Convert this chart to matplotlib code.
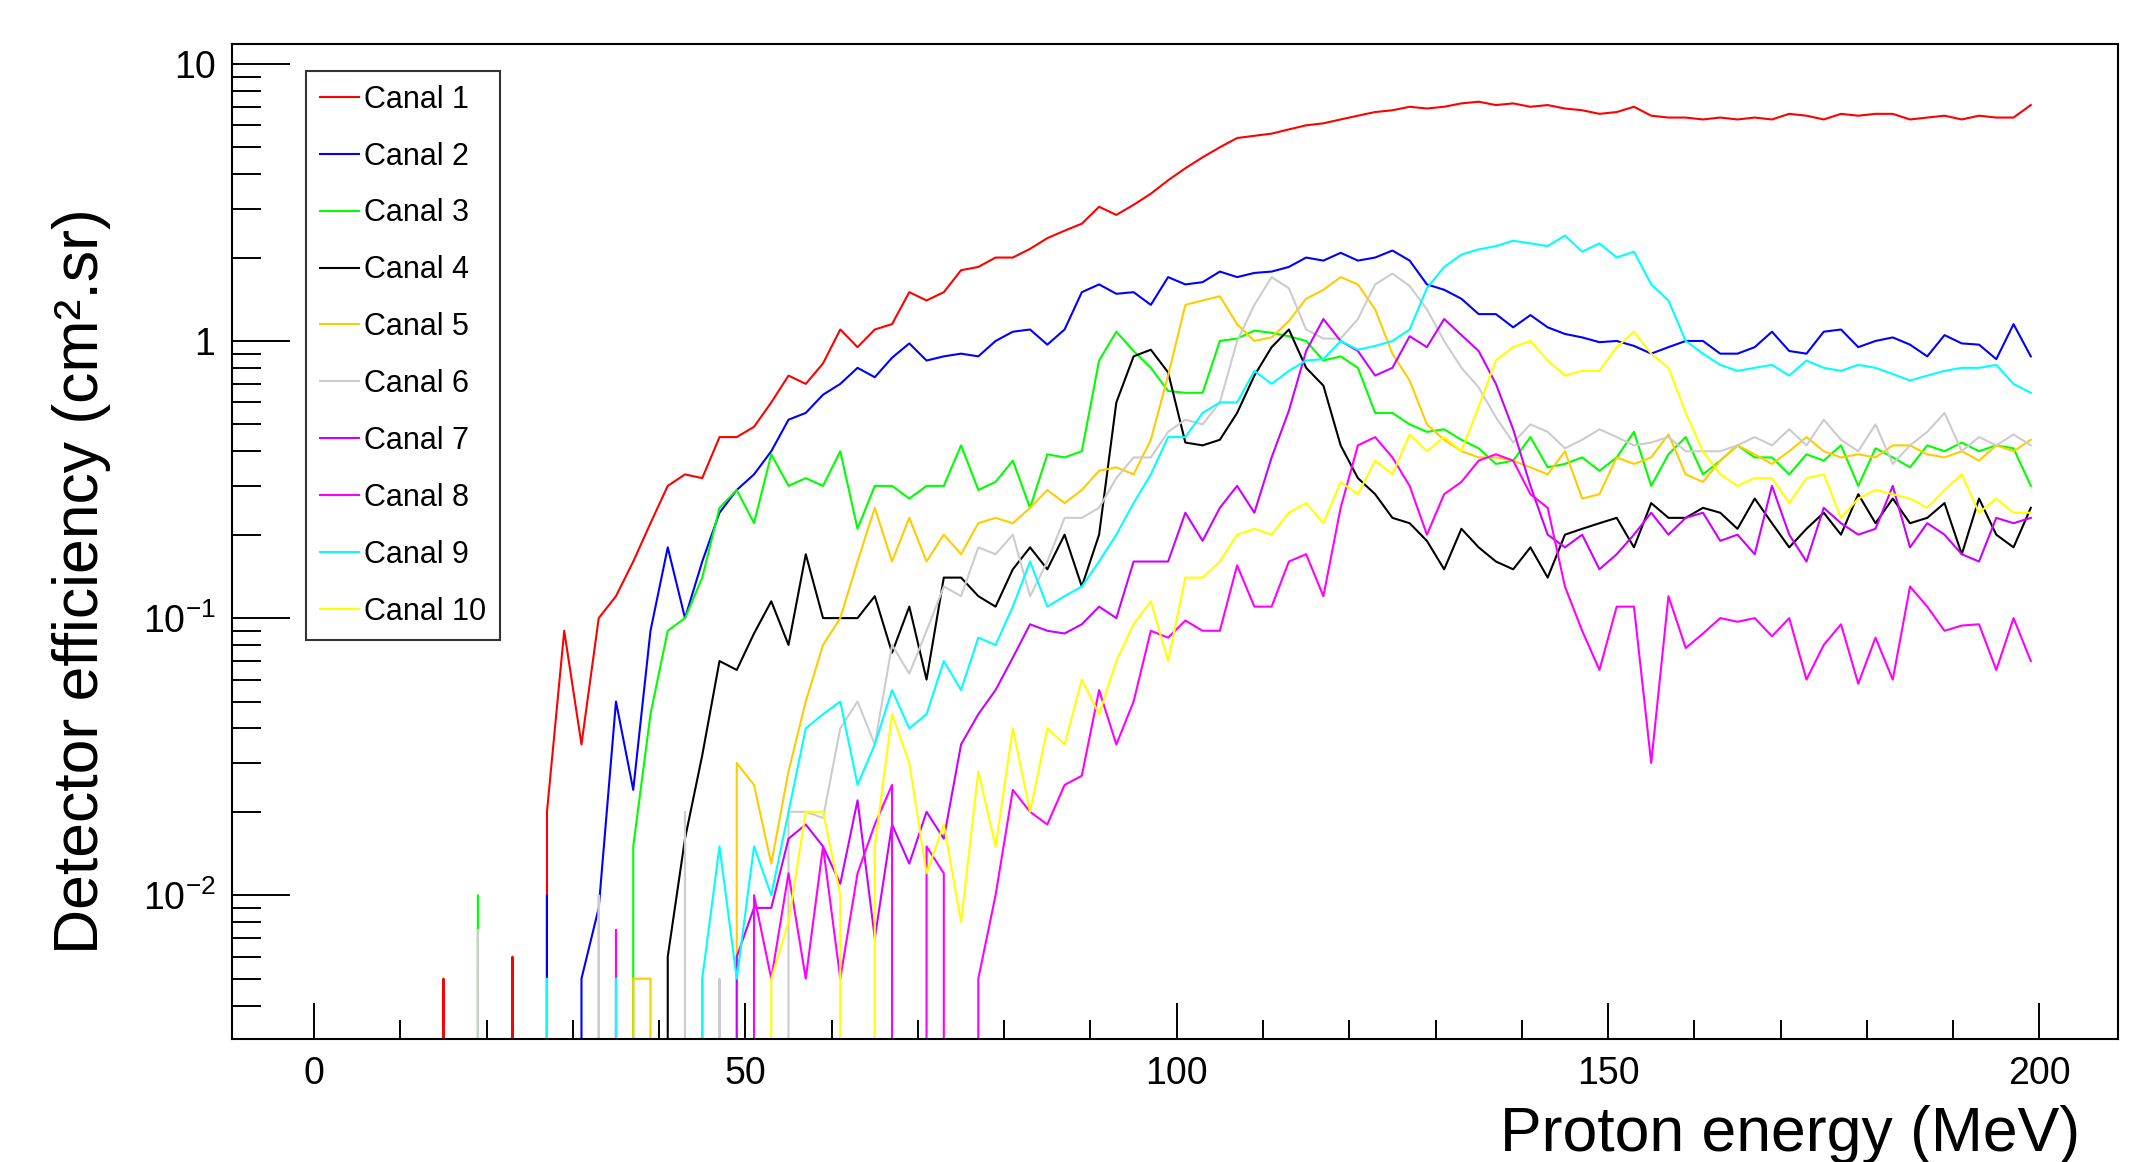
import numpy as np
import matplotlib
matplotlib.use("Agg")
from matplotlib import pyplot as plt
from matplotlib.ticker import FixedLocator, MultipleLocator, LogLocator, NullFormatter

plt.rcParams["font.family"] = ["Liberation Sans", "DejaVu Sans"]
plt.rcParams["mathtext.fontset"] = "custom"
plt.rcParams["mathtext.rm"] = "Liberation Sans"
plt.rcParams["mathtext.it"] = "Liberation Sans:italic"
plt.rcParams["mathtext.bf"] = "Liberation Sans:bold"

# bin centres (MeV), one value every 2 MeV, rows of 10 = 20 MeV each
energy = np.arange(1, 200, 2)

canal_1 = [
    0, 0, 0, 0, 0, 0, 0, 0.005, 0, 0,
    0, 0.006, 0, 0.02, 0.09, 0.035, 0.1, 0.12, 0.16, 0.22,
    0.3, 0.33, 0.32, 0.45, 0.45, 0.49, 0.6, 0.75, 0.7, 0.83,
    1.1, 0.95, 1.1, 1.15, 1.5, 1.4, 1.5, 1.8, 1.85, 2.0,
    2.0, 2.15, 2.35, 2.5, 2.65, 3.05, 2.85, 3.1, 3.4, 3.8,
    4.2, 4.6, 5.0, 5.4, 5.5, 5.6, 5.8, 6.0, 6.1, 6.3,
    6.5, 6.7, 6.8, 7.0, 6.9, 7.0, 7.2, 7.3, 7.1, 7.2,
    7.0, 7.1, 6.9, 6.8, 6.6, 6.7, 7.0, 6.5, 6.4, 6.4,
    6.3, 6.4, 6.3, 6.4, 6.3, 6.6, 6.5, 6.3, 6.6, 6.5,
    6.6, 6.6, 6.3, 6.4, 6.5, 6.3, 6.5, 6.4, 6.4, 7.1,
]
canal_2 = [
    0, 0, 0, 0, 0, 0, 0, 0, 0, 0,
    0, 0, 0, 0.01, 0, 0.005, 0.009, 0.05, 0.024, 0.09,
    0.18, 0.1, 0.16, 0.24, 0.29, 0.33, 0.4, 0.52, 0.55, 0.64,
    0.7, 0.8, 0.74, 0.87, 0.98, 0.85, 0.88, 0.9, 0.88, 1.0,
    1.08, 1.1, 0.97, 1.1, 1.5, 1.6, 1.48, 1.5, 1.35, 1.7,
    1.6, 1.63, 1.78, 1.7, 1.76, 1.78, 1.85, 2.0, 1.95, 2.08,
    1.95, 2.0, 2.12, 1.95, 1.6, 1.53, 1.42, 1.25, 1.25, 1.12,
    1.24, 1.12, 1.06, 1.03, 0.99, 1.0, 0.96, 0.9, 0.95, 1.0,
    1.0, 0.9, 0.9, 0.95, 1.08, 0.92, 0.9, 1.08, 1.1, 0.95,
    1.0, 1.03, 0.97, 0.88, 1.05, 0.98, 0.97, 0.86, 1.15, 0.88,
]
canal_3 = [
    0, 0, 0, 0, 0, 0, 0, 0, 0, 0.01,
    0, 0, 0, 0, 0, 0, 0, 0, 0.015, 0.045,
    0.09, 0.1, 0.14, 0.25, 0.29, 0.22, 0.39, 0.3, 0.32, 0.3,
    0.4, 0.21, 0.3, 0.3, 0.27, 0.3, 0.3, 0.42, 0.29, 0.31,
    0.37, 0.25, 0.39, 0.38, 0.4, 0.85, 1.08, 0.92, 0.8, 0.66,
    0.65, 0.65, 1.0, 1.02, 1.09, 1.07, 1.04, 1.0, 0.85, 0.88,
    0.8, 0.55, 0.55, 0.5, 0.47, 0.48, 0.44, 0.41, 0.36, 0.37,
    0.45, 0.35, 0.36, 0.38, 0.34, 0.38, 0.47, 0.3, 0.39, 0.45,
    0.33, 0.37, 0.42, 0.38, 0.38, 0.33, 0.39, 0.37, 0.42, 0.3,
    0.41, 0.38, 0.35, 0.42, 0.4, 0.43, 0.4, 0.42, 0.41, 0.3,
]
canal_4 = [
    0, 0, 0, 0, 0, 0, 0, 0, 0, 0,
    0, 0, 0, 0, 0, 0, 0, 0, 0, 0,
    0.006, 0.016, 0.032, 0.07, 0.065, 0.088, 0.115, 0.08, 0.17, 0.1,
    0.1, 0.1, 0.12, 0.075, 0.11, 0.06, 0.14, 0.14, 0.12, 0.11,
    0.15, 0.18, 0.15, 0.2, 0.13, 0.2, 0.6, 0.88, 0.93, 0.77,
    0.43, 0.42, 0.44, 0.55, 0.75, 0.95, 1.1, 0.8, 0.69, 0.42,
    0.32, 0.28, 0.23, 0.22, 0.19, 0.15, 0.21, 0.18, 0.16, 0.15,
    0.18, 0.14, 0.2, 0.21, 0.22, 0.23, 0.18, 0.26, 0.23, 0.23,
    0.25, 0.24, 0.21, 0.27, 0.22, 0.18, 0.21, 0.24, 0.2, 0.28,
    0.22, 0.27, 0.22, 0.23, 0.26, 0.17, 0.27, 0.2, 0.18, 0.25,
]
canal_5 = [
    0, 0, 0, 0, 0, 0, 0, 0, 0, 0,
    0, 0, 0, 0, 0, 0, 0, 0, 0.005, 0.005,
    0, 0, 0.005, 0, 0.03, 0.025, 0.013, 0.028, 0.05, 0.08,
    0.1, 0.16, 0.25, 0.16, 0.23, 0.16, 0.2, 0.17, 0.22, 0.23,
    0.22, 0.25, 0.29, 0.26, 0.29, 0.34, 0.35, 0.33, 0.44, 0.75,
    1.35, 1.4, 1.45, 1.15, 1.0, 1.03, 1.18, 1.42, 1.53, 1.7,
    1.6, 1.3, 0.9, 0.72, 0.5, 0.44, 0.4, 0.38, 0.38, 0.37,
    0.35, 0.33, 0.4, 0.27, 0.28, 0.38, 0.36, 0.38, 0.46, 0.33,
    0.31, 0.37, 0.42, 0.39, 0.36, 0.4, 0.45, 0.4, 0.38, 0.39,
    0.38, 0.42, 0.42, 0.39, 0.38, 0.4, 0.37, 0.42, 0.4, 0.44,
]
canal_6 = [
    0, 0, 0, 0, 0, 0, 0, 0, 0, 0.0075,
    0, 0, 0, 0, 0, 0, 0.01, 0, 0, 0,
    0, 0.02, 0, 0.005, 0, 0, 0, 0.02, 0.02, 0.019,
    0.04, 0.05, 0.035, 0.08, 0.063, 0.09, 0.13, 0.12, 0.18, 0.17,
    0.2, 0.12, 0.16, 0.23, 0.23, 0.25, 0.32, 0.38, 0.38, 0.47,
    0.52, 0.5, 0.6, 1.0, 1.35, 1.7, 1.55, 1.1, 1.02, 1.02,
    1.2, 1.6, 1.75, 1.58, 1.3, 1.0, 0.8, 0.68, 0.53, 0.43,
    0.5, 0.47, 0.41, 0.44, 0.48, 0.45, 0.42, 0.43, 0.45, 0.4,
    0.4, 0.4, 0.42, 0.45, 0.42, 0.48, 0.42, 0.52, 0.44, 0.4,
    0.5, 0.36, 0.42, 0.47, 0.55, 0.4, 0.45, 0.42, 0.46, 0.42,
]
canal_7 = [
    0, 0, 0, 0, 0, 0, 0, 0, 0, 0,
    0, 0, 0, 0, 0, 0, 0, 0, 0, 0,
    0, 0, 0, 0, 0.006, 0.009, 0.009, 0.016, 0.018, 0.015,
    0.011, 0.022, 0.007, 0.018, 0.013, 0.02, 0.016, 0.035, 0.045, 0.055,
    0.072, 0.095, 0.09, 0.088, 0.095, 0.11, 0.1, 0.16, 0.16, 0.16,
    0.24, 0.19, 0.25, 0.3, 0.24, 0.38, 0.56, 0.92, 1.2, 1.0,
    0.92, 0.75, 0.8, 1.04, 0.95, 1.2, 1.05, 0.92, 0.7, 0.48,
    0.3, 0.2, 0.18, 0.2, 0.15, 0.17, 0.2, 0.24, 0.2, 0.23,
    0.24, 0.19, 0.2, 0.17, 0.3, 0.2, 0.16, 0.25, 0.22, 0.2,
    0.21, 0.3, 0.18, 0.22, 0.2, 0.17, 0.16, 0.23, 0.22, 0.23,
]
canal_8 = [
    0, 0, 0, 0, 0, 0, 0, 0, 0, 0,
    0, 0, 0, 0, 0, 0, 0, 0.0075, 0, 0,
    0, 0, 0, 0, 0, 0.01, 0.005, 0.012, 0.005, 0.015,
    0.005, 0.012, 0.018, 0.025, 0, 0.015, 0.012, 0, 0.005, 0.01,
    0.024, 0.02, 0.018, 0.025, 0.027, 0.055, 0.035, 0.05, 0.09, 0.085,
    0.098, 0.09, 0.09, 0.155, 0.11, 0.11, 0.16, 0.17, 0.12, 0.25,
    0.42, 0.45, 0.38, 0.3, 0.2, 0.28, 0.31, 0.37, 0.39, 0.37,
    0.28, 0.25, 0.13, 0.09, 0.065, 0.11, 0.11, 0.03, 0.12, 0.078,
    0.088, 0.1, 0.097, 0.1, 0.086, 0.1, 0.06, 0.08, 0.095, 0.058,
    0.085, 0.06, 0.13, 0.11, 0.09, 0.094, 0.095, 0.065, 0.1, 0.07,
]
canal_9 = [
    0, 0, 0, 0, 0, 0, 0, 0, 0, 0,
    0, 0, 0, 0.005, 0, 0, 0, 0.005, 0, 0,
    0, 0, 0.005, 0.015, 0.005, 0.015, 0.01, 0.02, 0.04, 0.045,
    0.05, 0.025, 0.035, 0.055, 0.04, 0.045, 0.07, 0.055, 0.085, 0.08,
    0.11, 0.16, 0.11, 0.12, 0.13, 0.16, 0.2, 0.26, 0.33, 0.45,
    0.45, 0.55, 0.6, 0.6, 0.78, 0.7, 0.78, 0.85, 0.86, 1.0,
    0.93, 0.96, 1.0, 1.1, 1.55, 1.85, 2.05, 2.14, 2.2, 2.3,
    2.25, 2.2, 2.4, 2.1, 2.25, 2.0, 2.1, 1.6, 1.4, 1.0,
    0.9, 0.82, 0.78, 0.8, 0.82, 0.75, 0.85, 0.8, 0.78, 0.82,
    0.8, 0.76, 0.72, 0.75, 0.78, 0.8, 0.8, 0.82, 0.7, 0.65,
]
canal_10 = [
    0, 0, 0, 0, 0, 0, 0, 0, 0, 0,
    0, 0, 0, 0, 0, 0, 0, 0, 0, 0,
    0, 0, 0, 0, 0, 0, 0.005, 0.008, 0.02, 0.02,
    0.01, 0, 0.015, 0.045, 0.03, 0.012, 0.018, 0.008, 0.028, 0.015,
    0.04, 0.02, 0.04, 0.035, 0.06, 0.045, 0.07, 0.095, 0.115, 0.07,
    0.14, 0.14, 0.16, 0.2, 0.21, 0.2, 0.24, 0.26, 0.22, 0.31,
    0.28, 0.37, 0.33, 0.46, 0.4, 0.45, 0.4, 0.58, 0.85, 0.95,
    1.0, 0.85, 0.75, 0.78, 0.78, 0.95, 1.08, 0.9, 0.8, 0.55,
    0.4, 0.33, 0.3, 0.32, 0.32, 0.26, 0.32, 0.33, 0.23, 0.27,
    0.29, 0.28, 0.27, 0.25, 0.29, 0.33, 0.24, 0.27, 0.24, 0.24,
]

series = [canal_1, canal_2, canal_3, canal_4, canal_5,
          canal_6, canal_7, canal_8, canal_9, canal_10]
labels = [f"Canal {i}" for i in range(1, 11)]
colors = ["#ff0000", "#0000ff", "#00ff00", "#000000", "#ffcc00",
          "#cccccc", "#cc00ff", "#ff00ff", "#00ffff", "#ffff00"]

for s in series:
    assert len(s) == len(energy)

fig = plt.figure(figsize=(21.43, 11.62), dpi=100)
ax = fig.add_axes([0.1083, 0.1059, 0.880, 0.8563])

for values, label, color in zip(series, labels, colors):
    ax.plot(energy, values, color=color, lw=1.5, label=label)

ax.set_yscale("log", nonpositive="clip")
ax.set_xlim(-9.5, 209.1)
ax.set_ylim(0.00303, 11.8)

ax.xaxis.set_major_locator(FixedLocator([0, 50, 100, 150, 200]))
ax.xaxis.set_minor_locator(MultipleLocator(10))
ax.yaxis.set_major_locator(FixedLocator([0.01, 0.1, 1, 10]))
ax.set_yticklabels([r"$10^{-2}$", r"$10^{-1}$", "1", "10"])
ax.yaxis.set_minor_locator(LogLocator(base=10, subs=np.arange(2, 10)))
ax.yaxis.set_minor_formatter(NullFormatter())

ax.tick_params(which="both", direction="in", top=False, right=False,
               width=1.4, labelsize=27)
ax.tick_params(axis="y", which="major", length=42, pad=12)
ax.tick_params(axis="y", which="minor", length=21)
ax.tick_params(axis="x", which="major", length=26, pad=12)
ax.tick_params(axis="x", which="minor", length=14)
for sp in ax.spines.values():
    sp.set_linewidth(1.5)

leg = ax.legend(loc="upper left", bbox_to_anchor=(0.0392, 0.9729),
                borderaxespad=0, fontsize=22, frameon=True, fancybox=False,
                edgecolor="black", handlelength=1.3, handletextpad=0.15,
                labelspacing=0.88, borderpad=0.45)
leg.get_frame().set_linewidth(1.5)

fig.text(2080 / 2143, 0.0095, "Proton energy (MeV)", ha="right",
         va="baseline", fontsize=45)
fig.text(82 / 2143, 0.5, "Detector efficiency (cm\u00b2.sr)", rotation=90,
         ha="center", va="center", fontsize=45)

fig.savefig("out.png", dpi=100)
